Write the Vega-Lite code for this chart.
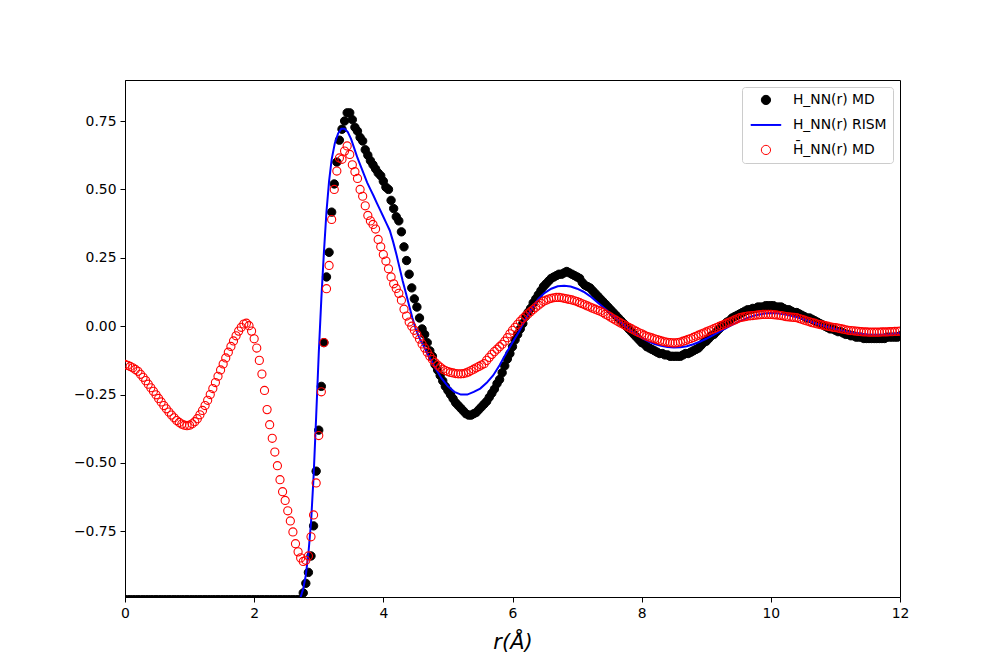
{
 "$schema": "https://vega.github.io/schema/vega-lite/v6.json",
 "width": 775, "height": 517,
 "autosize": {"type": "none"},
 "padding": {"left": 125, "top": 80, "right": 100, "bottom": 73},
 "background": "white",
 "config": {
  "view": {"stroke": "black", "strokeWidth": 1},
  "axis": {"grid": false, "domainColor": "black", "domainWidth": 1, "tickColor": "black", "tickSize": 5, "tickWidth": 1, "labelColor": "black", "labelFont": "DejaVu Sans", "labelFontSize": 13.9, "labelPadding": 4, "labelFlush": false, "labelOverlap": false, "titleColor": "black"},
  "legend": {"orient": "top-right", "offset": 7, "padding": 6, "fillColor": "white", "strokeColor": "#cccccc", "cornerRadius": 3, "labelFont": "DejaVu Sans", "labelFontSize": 13.9, "labelColor": "black", "symbolSize": 85, "symbolOffset": 11, "symbolStrokeWidth": 1, "symbolOpacity": 1, "labelOffset": 20, "rowPadding": 10, "title": null}
 },
 "datasets": {
  "md": [
{"r":0.00,"h":-1,"b":-0.140},{"r":0.04,"h":-1,"b":-0.143},{"r":0.08,"h":-1,"b":-0.147},{"r":0.12,"h":-1,"b":-0.152},{"r":0.16,"h":-1,"b":-0.158},{"r":0.20,"h":-1,"b":-0.165},{"r":0.24,"h":-1,"b":-0.176},{"r":0.28,"h":-1,"b":-0.187},{"r":0.32,"h":-1,"b":-0.199},{"r":0.36,"h":-1,"b":-0.212},
{"r":0.40,"h":-1,"b":-0.225},{"r":0.44,"h":-1,"b":-0.238},{"r":0.48,"h":-1,"b":-0.251},{"r":0.52,"h":-1,"b":-0.264},{"r":0.56,"h":-1,"b":-0.277},{"r":0.60,"h":-1,"b":-0.290},{"r":0.64,"h":-1,"b":-0.302},{"r":0.68,"h":-1,"b":-0.314},{"r":0.72,"h":-1,"b":-0.325},{"r":0.76,"h":-1,"b":-0.335},
{"r":0.80,"h":-1,"b":-0.345},{"r":0.84,"h":-1,"b":-0.352},{"r":0.88,"h":-1,"b":-0.358},{"r":0.92,"h":-1,"b":-0.362},{"r":0.96,"h":-1,"b":-0.364},{"r":1.00,"h":-1,"b":-0.362},{"r":1.04,"h":-1,"b":-0.357},{"r":1.08,"h":-1,"b":-0.349},{"r":1.12,"h":-1,"b":-0.338},{"r":1.16,"h":-1,"b":-0.324},
{"r":1.20,"h":-1,"b":-0.308},{"r":1.24,"h":-1,"b":-0.290},{"r":1.28,"h":-1,"b":-0.271},{"r":1.32,"h":-1,"b":-0.250},{"r":1.36,"h":-1,"b":-0.228},{"r":1.40,"h":-1,"b":-0.206},{"r":1.44,"h":-1,"b":-0.183},{"r":1.48,"h":-1,"b":-0.160},{"r":1.52,"h":-1,"b":-0.138},{"r":1.56,"h":-1,"b":-0.116},
{"r":1.60,"h":-1,"b":-0.095},{"r":1.64,"h":-1,"b":-0.074},{"r":1.68,"h":-1,"b":-0.054},{"r":1.72,"h":-1,"b":-0.035},{"r":1.76,"h":-1,"b":-0.018},{"r":1.80,"h":-1,"b":-0.004},{"r":1.84,"h":-1,"b":0.008},{"r":1.88,"h":-1,"b":0.011},{"r":1.92,"h":-1,"b":0.002},{"r":1.96,"h":-1,"b":-0.018},
{"r":2.00,"h":-1,"b":-0.046},{"r":2.04,"h":-1,"b":-0.080},{"r":2.08,"h":-1,"b":-0.125},{"r":2.12,"h":-1,"b":-0.175},{"r":2.16,"h":-1,"b":-0.235},{"r":2.20,"h":-1,"b":-0.305},{"r":2.24,"h":-1,"b":-0.360},{"r":2.28,"h":-1,"b":-0.410},{"r":2.32,"h":-1,"b":-0.460},{"r":2.36,"h":-1,"b":-0.510},
{"r":2.40,"h":-1,"b":-0.561},{"r":2.44,"h":-1,"b":-0.605},{"r":2.48,"h":-1,"b":-0.637},{"r":2.52,"h":-1,"b":-0.675},{"r":2.56,"h":-1,"b":-0.712},{"r":2.60,"h":-1,"b":-0.752},{"r":2.64,"h":-1,"b":-0.795},{"r":2.68,"h":-1,"b":-0.825},{"r":2.72,"h":-1,"b":-0.847},{"r":2.76,"h":-0.975,"b":-0.860},
{"r":2.80,"h":-0.940,"b":-0.856},{"r":2.84,"h":-0.900,"b":-0.840},{"r":2.88,"h":-0.840,"b":-0.770},{"r":2.92,"h":-0.730,"b":-0.690},{"r":2.96,"h":-0.530,"b":-0.573},{"r":3.00,"h":-0.380,"b":-0.400},{"r":3.04,"h":-0.220,"b":-0.240},{"r":3.08,"h":-0.060,"b":-0.060},{"r":3.12,"h":0.180,"b":0.137},{"r":3.16,"h":0.270,"b":0.222},
{"r":3.20,"h":0.417,"b":0.390},{"r":3.24,"h":0.520,"b":0.500},{"r":3.28,"h":0.600,"b":0.567},{"r":3.32,"h":0.680,"b":0.615},{"r":3.36,"h":0.720,"b":0.610},{"r":3.40,"h":0.750,"b":0.640},{"r":3.44,"h":0.780,"b":0.659},{"r":3.48,"h":0.780,"b":0.628},{"r":3.52,"h":0.755,"b":0.590},{"r":3.56,"h":0.727,"b":0.565},
{"r":3.60,"h":0.713,"b":0.540},{"r":3.64,"h":0.690,"b":0.500},{"r":3.68,"h":0.677,"b":0.475},{"r":3.72,"h":0.645,"b":0.440},{"r":3.76,"h":0.625,"b":0.405},{"r":3.80,"h":0.605,"b":0.385},{"r":3.84,"h":0.590,"b":0.372},{"r":3.88,"h":0.575,"b":0.355},{"r":3.92,"h":0.560,"b":0.317},{"r":3.96,"h":0.550,"b":0.290},
{"r":4.00,"h":0.530,"b":0.262},{"r":4.04,"h":0.508,"b":0.238},{"r":4.08,"h":0.500,"b":0.210},{"r":4.12,"h":0.460,"b":0.180},{"r":4.16,"h":0.430,"b":0.155},{"r":4.20,"h":0.400,"b":0.138},{"r":4.24,"h":0.385,"b":0.120},{"r":4.28,"h":0.345,"b":0.095},{"r":4.32,"h":0.290,"b":0.062},{"r":4.36,"h":0.240,"b":0.037},
{"r":4.40,"h":0.190,"b":0.015},{"r":4.44,"h":0.140,"b":0.000},{"r":4.48,"h":0.100,"b":-0.015},{"r":4.52,"h":0.070,"b":-0.030},{"r":4.56,"h":0.030,"b":-0.047},{"r":4.60,"h":-0.010,"b":-0.065},{"r":4.64,"h":-0.030,"b":-0.080},{"r":4.68,"h":-0.060,"b":-0.095},{"r":4.72,"h":-0.090,"b":-0.110},{"r":4.76,"h":-0.110,"b":-0.122},
{"r":4.80,"h":-0.140,"b":-0.133},{"r":4.84,"h":-0.160,"b":-0.142},{"r":4.88,"h":-0.180,"b":-0.150},{"r":4.92,"h":-0.200,"b":-0.157},{"r":4.96,"h":-0.220,"b":-0.162},{"r":5.00,"h":-0.235,"b":-0.166},{"r":5.04,"h":-0.250,"b":-0.169},{"r":5.08,"h":-0.265,"b":-0.171},{"r":5.12,"h":-0.280,"b":-0.173},{"r":5.16,"h":-0.290,"b":-0.174},
{"r":5.20,"h":-0.300,"b":-0.174},{"r":5.24,"h":-0.310,"b":-0.173},{"r":5.28,"h":-0.320,"b":-0.171},{"r":5.32,"h":-0.325,"b":-0.167},{"r":5.36,"h":-0.325,"b":-0.162},{"r":5.40,"h":-0.320,"b":-0.157},{"r":5.44,"h":-0.315,"b":-0.152},{"r":5.48,"h":-0.305,"b":-0.147},{"r":5.52,"h":-0.295,"b":-0.142},{"r":5.56,"h":-0.285,"b":-0.137},
{"r":5.60,"h":-0.275,"b":-0.125},{"r":5.64,"h":-0.260,"b":-0.114},{"r":5.68,"h":-0.245,"b":-0.103},{"r":5.72,"h":-0.230,"b":-0.093},{"r":5.76,"h":-0.210,"b":-0.084},{"r":5.80,"h":-0.195,"b":-0.075},{"r":5.84,"h":-0.170,"b":-0.066},{"r":5.88,"h":-0.145,"b":-0.055},{"r":5.92,"h":-0.120,"b":-0.042},{"r":5.96,"h":-0.100,"b":-0.028},
{"r":6.00,"h":-0.075,"b":-0.015},{"r":6.04,"h":-0.050,"b":-0.004},{"r":6.08,"h":-0.030,"b":0.007},{"r":6.12,"h":-0.010,"b":0.018},{"r":6.16,"h":0.010,"b":0.028},{"r":6.20,"h":0.035,"b":0.037},{"r":6.24,"h":0.050,"b":0.045},{"r":6.28,"h":0.065,"b":0.053},{"r":6.32,"h":0.085,"b":0.061},{"r":6.36,"h":0.100,"b":0.069},
{"r":6.40,"h":0.115,"b":0.077},{"r":6.44,"h":0.130,"b":0.084},{"r":6.48,"h":0.145,"b":0.091},{"r":6.52,"h":0.155,"b":0.095},{"r":6.56,"h":0.165,"b":0.099},{"r":6.60,"h":0.175,"b":0.102},{"r":6.64,"h":0.180,"b":0.104},{"r":6.68,"h":0.185,"b":0.105},{"r":6.72,"h":0.190,"b":0.105},{"r":6.76,"h":0.190,"b":0.104},
{"r":6.80,"h":0.195,"b":0.102},{"r":6.84,"h":0.200,"b":0.100},{"r":6.88,"h":0.195,"b":0.098},{"r":6.92,"h":0.190,"b":0.096},{"r":6.96,"h":0.185,"b":0.093},{"r":7.00,"h":0.180,"b":0.090},{"r":7.04,"h":0.175,"b":0.086},{"r":7.08,"h":0.160,"b":0.082},{"r":7.12,"h":0.150,"b":0.078},{"r":7.16,"h":0.145,"b":0.074},
{"r":7.20,"h":0.140,"b":0.070},{"r":7.24,"h":0.130,"b":0.066},{"r":7.28,"h":0.120,"b":0.062},{"r":7.32,"h":0.110,"b":0.058},{"r":7.36,"h":0.100,"b":0.055},{"r":7.40,"h":0.090,"b":0.050},{"r":7.44,"h":0.080,"b":0.044},{"r":7.48,"h":0.070,"b":0.039},{"r":7.52,"h":0.060,"b":0.033},{"r":7.56,"h":0.050,"b":0.027},
{"r":7.60,"h":0.040,"b":0.022},{"r":7.64,"h":0.030,"b":0.016},{"r":7.68,"h":0.020,"b":0.011},{"r":7.72,"h":0.010,"b":0.006},{"r":7.76,"h":0.000,"b":0.001},{"r":7.80,"h":-0.010,"b":-0.004},{"r":7.84,"h":-0.020,"b":-0.009},{"r":7.88,"h":-0.030,"b":-0.014},{"r":7.92,"h":-0.040,"b":-0.019},{"r":7.96,"h":-0.050,"b":-0.024},
{"r":8.00,"h":-0.060,"b":-0.028},{"r":8.04,"h":-0.065,"b":-0.033},{"r":8.08,"h":-0.075,"b":-0.037},{"r":8.12,"h":-0.080,"b":-0.040},{"r":8.16,"h":-0.085,"b":-0.043},{"r":8.20,"h":-0.090,"b":-0.046},{"r":8.24,"h":-0.095,"b":-0.049},{"r":8.28,"h":-0.100,"b":-0.052},{"r":8.32,"h":-0.100,"b":-0.055},{"r":8.36,"h":-0.105,"b":-0.057},
{"r":8.40,"h":-0.105,"b":-0.059},{"r":8.44,"h":-0.110,"b":-0.060},{"r":8.48,"h":-0.110,"b":-0.061},{"r":8.52,"h":-0.110,"b":-0.061},{"r":8.56,"h":-0.110,"b":-0.060},{"r":8.60,"h":-0.110,"b":-0.058},{"r":8.64,"h":-0.105,"b":-0.055},{"r":8.68,"h":-0.100,"b":-0.052},{"r":8.72,"h":-0.100,"b":-0.048},{"r":8.76,"h":-0.095,"b":-0.045},
{"r":8.80,"h":-0.090,"b":-0.041},{"r":8.84,"h":-0.085,"b":-0.037},{"r":8.88,"h":-0.080,"b":-0.033},{"r":8.92,"h":-0.070,"b":-0.029},{"r":8.96,"h":-0.060,"b":-0.025},{"r":9.00,"h":-0.055,"b":-0.021},{"r":9.04,"h":-0.045,"b":-0.017},{"r":9.08,"h":-0.035,"b":-0.013},{"r":9.12,"h":-0.030,"b":-0.009},{"r":9.16,"h":-0.020,"b":-0.005},
{"r":9.20,"h":-0.010,"b":-0.001},{"r":9.24,"h":0.000,"b":0.003},{"r":9.28,"h":0.005,"b":0.007},{"r":9.32,"h":0.015,"b":0.011},{"r":9.36,"h":0.020,"b":0.015},{"r":9.40,"h":0.030,"b":0.019},{"r":9.44,"h":0.035,"b":0.023},{"r":9.48,"h":0.040,"b":0.027},{"r":9.52,"h":0.045,"b":0.031},{"r":9.56,"h":0.050,"b":0.033},
{"r":9.60,"h":0.055,"b":0.035},{"r":9.64,"h":0.060,"b":0.037},{"r":9.68,"h":0.060,"b":0.038},{"r":9.72,"h":0.065,"b":0.039},{"r":9.76,"h":0.065,"b":0.040},{"r":9.80,"h":0.070,"b":0.041},{"r":9.84,"h":0.070,"b":0.042},{"r":9.88,"h":0.070,"b":0.043},{"r":9.92,"h":0.075,"b":0.043},{"r":9.96,"h":0.075,"b":0.043},
{"r":10.00,"h":0.075,"b":0.043},{"r":10.04,"h":0.075,"b":0.042},{"r":10.08,"h":0.070,"b":0.041},{"r":10.12,"h":0.070,"b":0.040},{"r":10.16,"h":0.070,"b":0.039},{"r":10.20,"h":0.065,"b":0.037},{"r":10.24,"h":0.060,"b":0.035},{"r":10.28,"h":0.060,"b":0.034},{"r":10.32,"h":0.055,"b":0.033},{"r":10.36,"h":0.050,"b":0.032},
{"r":10.40,"h":0.050,"b":0.031},{"r":10.44,"h":0.045,"b":0.028},{"r":10.48,"h":0.040,"b":0.025},{"r":10.52,"h":0.035,"b":0.022},{"r":10.56,"h":0.030,"b":0.019},{"r":10.60,"h":0.030,"b":0.016},{"r":10.64,"h":0.025,"b":0.013},{"r":10.68,"h":0.020,"b":0.011},{"r":10.72,"h":0.015,"b":0.008},{"r":10.76,"h":0.010,"b":0.006},
{"r":10.80,"h":0.005,"b":0.004},{"r":10.84,"h":0.000,"b":0.002},{"r":10.88,"h":-0.005,"b":0.000},{"r":10.92,"h":-0.010,"b":-0.002},{"r":10.96,"h":-0.010,"b":-0.004},{"r":11.00,"h":-0.015,"b":-0.005},{"r":11.04,"h":-0.020,"b":-0.007},{"r":11.08,"h":-0.020,"b":-0.009},{"r":11.12,"h":-0.025,"b":-0.011},{"r":11.16,"h":-0.030,"b":-0.013},
{"r":11.20,"h":-0.030,"b":-0.015},{"r":11.24,"h":-0.035,"b":-0.016},{"r":11.28,"h":-0.035,"b":-0.017},{"r":11.32,"h":-0.040,"b":-0.018},{"r":11.36,"h":-0.040,"b":-0.019},{"r":11.40,"h":-0.040,"b":-0.020},{"r":11.44,"h":-0.045,"b":-0.021},{"r":11.48,"h":-0.045,"b":-0.021},{"r":11.52,"h":-0.045,"b":-0.022},{"r":11.56,"h":-0.045,"b":-0.022},
{"r":11.60,"h":-0.045,"b":-0.022},{"r":11.64,"h":-0.045,"b":-0.022},{"r":11.68,"h":-0.045,"b":-0.022},{"r":11.72,"h":-0.045,"b":-0.021},{"r":11.76,"h":-0.045,"b":-0.021},{"r":11.80,"h":-0.040,"b":-0.021},{"r":11.84,"h":-0.040,"b":-0.020},{"r":11.88,"h":-0.040,"b":-0.020},{"r":11.92,"h":-0.040,"b":-0.019},{"r":11.96,"h":-0.040,"b":-0.019},
{"r":12.00,"h":-0.035,"b":-0.018}
  ],
  "rism": [
{"r":0,"rism":-1},{"r":2.70,"rism":-1},{"r":2.72,"rism":-0.99},{"r":2.76,"rism":-0.96},{"r":2.80,"rism":-0.91},{"r":2.84,"rism":-0.83},{"r":2.88,"rism":-0.72},{"r":2.92,"rism":-0.55},{"r":2.96,"rism":-0.33},{"r":3.00,"rism":-0.10},
{"r":3.04,"rism":0.10},{"r":3.08,"rism":0.27},{"r":3.12,"rism":0.42},{"r":3.16,"rism":0.53},{"r":3.20,"rism":0.61},{"r":3.25,"rism":0.67},{"r":3.30,"rism":0.705},{"r":3.35,"rism":0.722},{"r":3.40,"rism":0.722},{"r":3.45,"rism":0.71},
{"r":3.50,"rism":0.685},{"r":3.55,"rism":0.65},{"r":3.60,"rism":0.615},{"r":3.65,"rism":0.585},{"r":3.70,"rism":0.555},{"r":3.75,"rism":0.525},{"r":3.80,"rism":0.50},{"r":3.85,"rism":0.476},{"r":3.90,"rism":0.45},{"r":3.95,"rism":0.425},
{"r":4.00,"rism":0.40},{"r":4.05,"rism":0.375},{"r":4.10,"rism":0.35},{"r":4.15,"rism":0.31},{"r":4.20,"rism":0.265},{"r":4.25,"rism":0.215},{"r":4.30,"rism":0.165},{"r":4.35,"rism":0.12},{"r":4.40,"rism":0.075},{"r":4.45,"rism":0.03},
{"r":4.50,"rism":-0.008},{"r":4.55,"rism":-0.038},{"r":4.60,"rism":-0.062},{"r":4.70,"rism":-0.108},{"r":4.80,"rism":-0.15},{"r":4.90,"rism":-0.19},{"r":5.00,"rism":-0.22},{"r":5.10,"rism":-0.24},{"r":5.20,"rism":-0.25},{"r":5.30,"rism":-0.25},
{"r":5.40,"rism":-0.24},{"r":5.50,"rism":-0.228},{"r":5.60,"rism":-0.207},{"r":5.70,"rism":-0.18},{"r":5.80,"rism":-0.143},{"r":5.90,"rism":-0.10},{"r":6.00,"rism":-0.06},{"r":6.10,"rism":-0.02},{"r":6.20,"rism":0.025},{"r":6.30,"rism":0.065},
{"r":6.40,"rism":0.10},{"r":6.50,"rism":0.122},{"r":6.60,"rism":0.137},{"r":6.70,"rism":0.146},{"r":6.80,"rism":0.148},{"r":6.90,"rism":0.145},{"r":7.00,"rism":0.137},{"r":7.10,"rism":0.126},{"r":7.20,"rism":0.11},{"r":7.30,"rism":0.09},
{"r":7.40,"rism":0.07},{"r":7.50,"rism":0.05},{"r":7.60,"rism":0.03},{"r":7.70,"rism":0.01},{"r":7.80,"rism":-0.01},{"r":7.90,"rism":-0.028},{"r":8.00,"rism":-0.043},{"r":8.10,"rism":-0.055},{"r":8.20,"rism":-0.065},{"r":8.30,"rism":-0.072},
{"r":8.40,"rism":-0.076},{"r":8.50,"rism":-0.078},{"r":8.60,"rism":-0.077},{"r":8.70,"rism":-0.073},{"r":8.80,"rism":-0.066},{"r":8.90,"rism":-0.057},{"r":9.00,"rism":-0.046},{"r":9.10,"rism":-0.034},{"r":9.20,"rism":-0.021},{"r":9.30,"rism":-0.008},
{"r":9.40,"rism":0.005},{"r":9.50,"rism":0.017},{"r":9.60,"rism":0.027},{"r":9.70,"rism":0.036},{"r":9.80,"rism":0.042},{"r":9.90,"rism":0.046},{"r":10.00,"rism":0.048},{"r":10.10,"rism":0.047},{"r":10.20,"rism":0.044},{"r":10.30,"rism":0.039},
{"r":10.40,"rism":0.033},{"r":10.50,"rism":0.026},{"r":10.60,"rism":0.018},{"r":10.70,"rism":0.01},{"r":10.80,"rism":0.003},{"r":10.90,"rism":-0.004},{"r":11.00,"rism":-0.01},{"r":11.10,"rism":-0.016},{"r":11.20,"rism":-0.021},{"r":11.30,"rism":-0.025},
{"r":11.40,"rism":-0.028},{"r":11.50,"rism":-0.03},{"r":11.60,"rism":-0.031},{"r":11.70,"rism":-0.031},{"r":11.80,"rism":-0.03},{"r":11.90,"rism":-0.028},{"r":12.00,"rism":-0.026}
  ]
 },
 "layer": [
  {
   "data": {"name": "md"},
   "transform": [{"fold": ["h"], "as": ["key", "v"]}],
   "mark": {"type": "point", "filled": true, "opacity": 1, "size": 70, "strokeWidth": 1, "clip": true},
   "encoding": {
    "x": {"field": "r", "type": "quantitative", "scale": {"domain": [0, 12], "nice": false, "zero": false},
          "axis": {"values": [0, 2, 4, 6, 8, 10, 12], "format": "d", "title": "r(Å)", "titleFont": "DejaVu Sans", "titleFontStyle": "italic", "titleFontWeight": "normal", "titleFontSize": 21, "titlePadding": 12}},
    "y": {"field": "v", "type": "quantitative", "scale": {"domain": [-0.99, 0.9], "nice": false, "zero": false},
          "axis": {"values": [-0.75, -0.5, -0.25, 0, 0.25, 0.5, 0.75], "format": ".2f", "title": null}},
    "stroke": {"field": "key", "type": "nominal",
      "scale": {"domain": ["h", "rism", "b"], "range": ["#000000", "#0000ff", "#ff0000"]},
      "legend": {"title": null, "labelExpr": "datum.value === 'h' ? 'H_NN(r) MD' : datum.value === 'rism' ? 'H_NN(r) RISM' : 'H̄_NN(r) MD'"}},
    "fill": {"field": "key", "type": "nominal",
      "scale": {"domain": ["h", "rism", "b"], "range": ["#000000", "#0000ff", "transparent"]},
      "legend": {"title": null, "labelExpr": "datum.value === 'h' ? 'H_NN(r) MD' : datum.value === 'rism' ? 'H_NN(r) RISM' : 'H̄_NN(r) MD'"}},
    "shape": {"field": "key", "type": "nominal",
      "scale": {"domain": ["h", "rism", "b"], "range": ["circle", "M-3.25,-0.1H3.25V0.1H-3.25Z", "circle"]},
      "legend": {"title": null, "labelExpr": "datum.value === 'h' ? 'H_NN(r) MD' : datum.value === 'rism' ? 'H_NN(r) RISM' : 'H̄_NN(r) MD'"}}
   }
  },
  {
   "data": {"name": "rism"},
   "transform": [{"fold": ["rism"], "as": ["key", "v"]}],
   "mark": {"type": "line", "strokeWidth": 2, "clip": true},
   "encoding": {
    "x": {"field": "r", "type": "quantitative"},
    "y": {"field": "v", "type": "quantitative"},
    "stroke": {"field": "key", "type": "nominal"}
   }
  },
  {
   "data": {"name": "md"},
   "transform": [{"fold": ["b"], "as": ["key", "v"]}],
   "mark": {"type": "point", "filled": false, "opacity": 1, "size": 66, "strokeWidth": 1.1, "clip": true},
   "encoding": {
    "x": {"field": "r", "type": "quantitative"},
    "y": {"field": "v", "type": "quantitative"},
    "stroke": {"field": "key", "type": "nominal"},
    "shape": {"field": "key", "type": "nominal"}
   }
  }
 ]
}
